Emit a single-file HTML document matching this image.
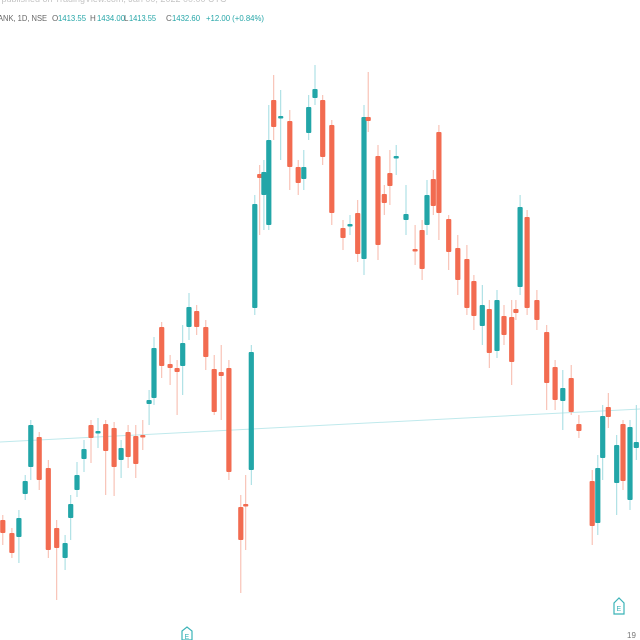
<!DOCTYPE html>
<html><head><meta charset="utf-8">
<style>
html,body{margin:0;padding:0;background:#fff;width:640px;height:640px;overflow:hidden}
svg{display:block}
text{font-family:"Liberation Sans",sans-serif}
</style></head>
<body>
<svg id="chart" width="640" height="640" viewBox="0 0 640 640">
<rect width="640" height="640" fill="#fff"/>
<text x="-4" y="2" font-size="9" fill="#c4c4c4">r published on TradingView.com, Jan 00, 2022 00:00 UTC</text>
<g font-size="8">
<text x="-2" y="21" fill="#666" textLength="49" lengthAdjust="spacingAndGlyphs">ANK, 1D, NSE</text>
<text x="52" y="21" fill="#666">O</text><text x="58" y="21" fill="#26a6a8" textLength="28" lengthAdjust="spacingAndGlyphs">1413.55</text>
<text x="90" y="21" fill="#666">H</text><text x="97" y="21" fill="#26a6a8" textLength="28" lengthAdjust="spacingAndGlyphs">1434.00</text>
<text x="124" y="21" fill="#666">L</text><text x="129" y="21" fill="#26a6a8" textLength="27" lengthAdjust="spacingAndGlyphs">1413.55</text>
<text x="166" y="21" fill="#666">C</text><text x="172" y="21" fill="#26a6a8" textLength="28" lengthAdjust="spacingAndGlyphs">1432.60</text>
<text x="206" y="21" fill="#26a6a8" textLength="58" lengthAdjust="spacingAndGlyphs">+12.00 (+0.84%)</text>
</g>
<line x1="0" y1="442" x2="640" y2="409" stroke="#bfe9ec" stroke-width="1"/>
<g id="candles"></g>
<g><path d="M182 640 L182 631 L187 627 L192 631 L192 640 Z" fill="#fff" stroke="#3bb3b8" stroke-width="1.2"/><text x="184.5" y="639" font-size="7" fill="#3bb3b8">E</text></g>
<g><path d="M614 614 L614 603 L619 598 L624 603 L624 614 Z" fill="#fff" stroke="#3bb3b8" stroke-width="1.2"/><text x="616.5" y="611" font-size="7" fill="#3bb3b8">E</text></g>
<text x="627" y="638" font-size="8" fill="#777">19</text>
</svg>
<script>
const days=[0.4,1.7,2.7,3.6,4.4,5.6,6.9,8.1,9.3,10.1,11,12,13,14,15.1,16.3,17.3,18.3,19.4,20.4,21.3,22,23.1,24.3,25.3,26.1,27,28.1,29.4,30.6,31.6,32.7,34.4,35.1,35.9,36.4,37.1,37.7,38.4,39.1,40.1,41.4,42.6,43.4,44.1,45,46.1,47.4,49,50,51.1,52,52.6,54,54.9,55.7,56.6,58,59.3,60.3,61,61.9,62.7,64.1,65.4,66.7,67.7,68.9,69.9,71,72,73.1,73.7,74.3,75.3,76.7,78.1,79.3,80.4,81.6,82.7,84.6,85.4,86.1,86.9,88.1,89,90,90.9];
const opens=[1340,1333.5,1331.5,1353,1366.5,1381.5,1366,1336,1321,1341,1355,1370.5,1387.5,1383.5,1388,1386,1370,1384,1382,1382.5,1398,1401,1436.5,1418,1416,1417,1436.5,1444.5,1436.5,1415.5,1414,1416,1346.5,1348,1365,1446,1513,1502.5,1487.5,1550,1541,1539.5,1516.5,1510.5,1533.5,1551,1550,1537.5,1486,1487,1493.5,1470.5,1541.5,1522,1503,1513.5,1521,1490,1475.5,1485,1487.5,1510.5,1534,1490.5,1476,1470.5,1459.5,1437,1445.5,1424.5,1442,1441.5,1445.5,1456.5,1491.5,1450,1434,1416.5,1399.5,1411,1388,1359.5,1338.5,1371,1396.5,1358.5,1388,1350,1376];
const closes=[1333.5,1323.5,1341,1359.5,1387.5,1360,1325,1326,1328.5,1348,1362.5,1375.5,1381,1384.5,1374.5,1366.5,1376,1371.5,1368,1381.5,1400,1426,1417,1416,1414,1428.5,1446.5,1436.5,1421.5,1394,1412,1364,1330,1347,1424,1498,1511,1514,1530,1536.5,1542,1516.5,1508.5,1516.5,1546.5,1555.5,1521.5,1493.5,1481,1488,1473,1541.5,1539.5,1477.5,1498.5,1507,1522,1493,1474.5,1465.5,1502.5,1497,1493.5,1474,1460,1446,1442,1447.5,1423.5,1450,1432.5,1419,1443.5,1496.5,1446,1440,1408.5,1400,1406,1394,1384.5,1337,1366,1392,1391.5,1377.5,1359.5,1386.5,1379];
const highs=[1342.5,1336,1345,1362.5,1390,1384,1370,1340,1332.5,1352.5,1369,1380,1390,1391,1390,1389,1380,1387.5,1387.5,1390,1405,1431.5,1439,1422.5,1420,1437.5,1453.5,1447.5,1440,1422.5,1427.5,1420,1352.5,1362.5,1427.5,1502.5,1517.5,1520,1547.5,1562.5,1555,1545,1520,1525,1552.5,1567.5,1552.5,1540,1490,1492.5,1500,1547.5,1564,1527.5,1507.5,1525,1527.5,1507.5,1487.5,1490,1510,1515,1537.5,1492.5,1482.5,1477.5,1462.5,1457.5,1450,1455,1447.5,1450,1450,1502.5,1495,1455,1437.5,1420,1415,1417.5,1392.5,1365,1372.5,1397.5,1403.5,1382.5,1390,1390,1397.5];
const lows=[1327.5,1321,1318.5,1350,1360,1355,1321,1300,1315,1330,1351.5,1364,1368.5,1376,1352.5,1352,1361,1366,1361,1375,1387.5,1397.5,1411,1407.5,1392.5,1402.5,1430,1432.5,1415,1392.5,1390,1360,1303.5,1325,1357.5,1442.5,1482.5,1485,1485,1530,1520,1505,1502.5,1505,1530,1547.5,1517.5,1487.5,1475,1482.5,1469,1462.5,1534,1470,1492.5,1497.5,1512.5,1482.5,1467.5,1460,1482.5,1492.5,1480,1465,1452.5,1442.5,1435,1427.5,1416,1421,1427.5,1407.5,1440,1452.5,1442.5,1435,1395,1395,1385,1392.5,1381,1327.5,1332.5,1360,1386,1342.5,1355,1345,1370];

const xScale=d=>d*7;
const yScale=p=>(1600-p)*2;
const NS='http://www.w3.org/2000/svg';
const g=document.getElementById('candles');
for(let i=0;i<days.length;i++){
  const up=closes[i]>=opens[i];
  const col=up?'#22a6a8':'#f26b50';
  const x=xScale(days[i]);
  const c=document.createElementNS(NS,'g');
  
  
  const w=document.createElementNS(NS,'line');
  
  
  w.setAttribute('x1',x);w.setAttribute('x2',x);
  w.setAttribute('y1',yScale(highs[i]));w.setAttribute('y2',yScale(lows[i]));
  w.setAttribute('stroke',up?'#9fdbe0':'#f7b7a8');w.setAttribute('stroke-width','1');
  c.appendChild(w);
  const top=yScale(Math.max(opens[i],closes[i]));
  const bot=yScale(Math.min(opens[i],closes[i]));
  const r=document.createElementNS(NS,'rect');
  
  
  r.setAttribute('x',x-2.6);r.setAttribute('width',5.2);
  r.setAttribute('y',top);r.setAttribute('height',Math.max(bot-top,2.5));
  r.setAttribute('rx',1);
  r.setAttribute('fill',col);
  c.appendChild(r);
  g.appendChild(c);
}
</script>
</body></html>
